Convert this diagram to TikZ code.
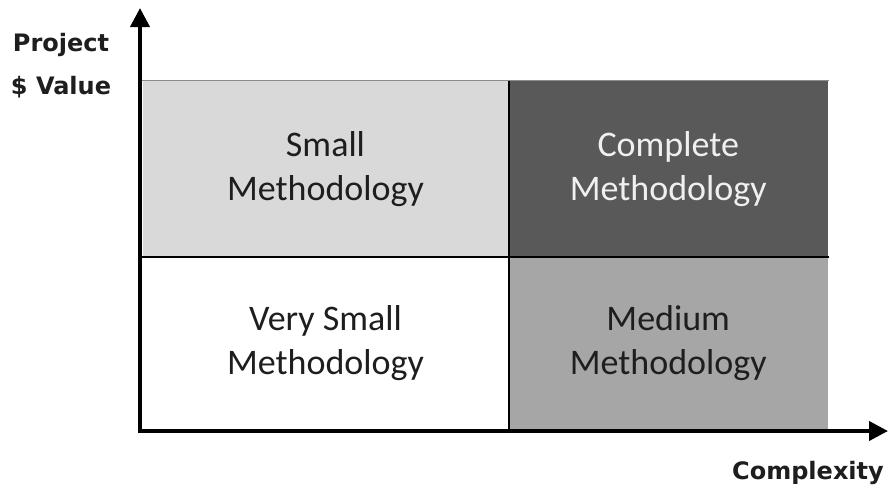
\documentclass[tikz,border=0pt]{standalone}
\usepackage{fontspec}
\setmainfont{Carlito}
\newfontfamily\axisfont{DejaVu Sans}
\usetikzlibrary{arrows.meta}
\definecolor{cellA}{HTML}{D9D9D9}
\definecolor{cellB}{HTML}{595959}
\definecolor{cellC}{HTML}{A6A6A6}
\definecolor{txtdark}{HTML}{1E1E1E}
\definecolor{txtlight}{HTML}{F0F0F0}
\tikzset{
  cell/.style={draw=black, line width=1pt, minimum width=366pt, minimum height=175pt,
    inner sep=0pt, align=center, font=\fontsize{36}{44}\selectfont, text=txtdark, anchor=center},
  axislabel/.style={font=\axisfont\bfseries\fontsize{24}{43}\selectfont, text=txtdark, align=center, inner sep=0pt},
  axis/.style={line width=4pt, black, line join=miter}
}
\begin{document}
\begin{tikzpicture}[x=1pt,y=-1pt]
\useasboundingbox (0,0) rectangle (888,488);
\fill[white] (0,0) rectangle (888,488);
% cells
\node[cell, fill=cellA, draw=none, minimum width=366pt, minimum height=175.5pt] (small) at (325.5,168.75) {Small\\Methodology};
\node[cell, fill=cellB, draw=none, minimum width=319.5pt, minimum height=175.5pt, text=txtlight] (complete) at (668.25,168.75) {Complete\\Methodology};
\node[cell, fill=white, draw=none, minimum width=366pt, minimum height=174pt] (vsmall) at (325.5,343.5) {Very Small\\Methodology};
\node[cell, fill=cellC, draw=none, minimum width=319.5pt, minimum height=174pt] (medium) at (668.25,343.5) {Medium\\Methodology};
% cell borders
\draw[line width=1pt, black!45] (small.north west) -- (complete.north east);
\draw[line width=1.2pt, black] (small.south west) -- (complete.south east);
\draw[line width=1.2pt, black] (small.north east) -- (vsmall.south east);
% axes
\coordinate (origin) at (140,431);
\coordinate (ytip) at (140,8);
\coordinate (xtip) at (888,431);
\draw[axis, -{Triangle[length=19pt,width=19pt]}] (origin) -- (ytip);
\draw[axis, -{Triangle[length=19pt,width=19pt]}] (138,431) -- (xtip);
% labels
\node[axislabel] (ylab) at (61,66) {Project\\\$ Value};
\node[axislabel] (xlab) at (808,473) {Complexity};
\end{tikzpicture}
\end{document}
